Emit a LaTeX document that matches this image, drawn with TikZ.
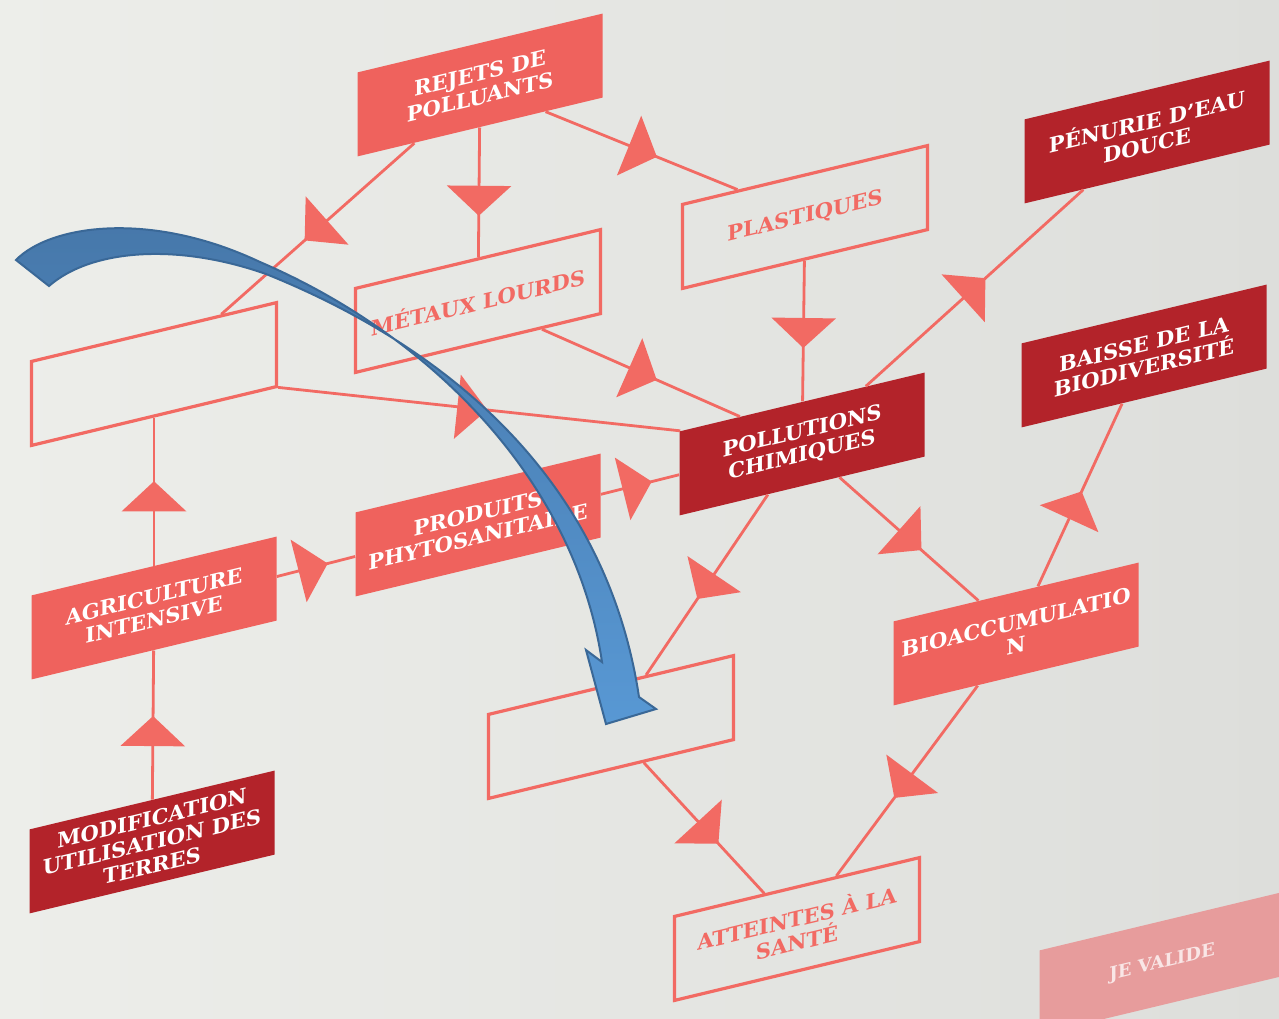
\documentclass[tikz,border=0pt]{standalone}
\usepackage{fontspec}
\setmainfont{DejaVu Serif}
\usepackage {tikz}
\usetikzlibrary {positioning}
\usetikzlibrary{arrows.meta}
\usetikzlibrary{decorations.markings}
\definecolor{saumon}{HTML}{EF625D}
\definecolor{bordeaux}{HTML}{B3232A}
\definecolor{trait}{HTML}{F26A63}
\definecolor{rose}{HTML}{E79C9C}
\definecolor{fondg}{HTML}{EDEEEA}
\definecolor{fondd}{HTML}{DDDEDB}
\definecolor{bleuh}{HTML}{4677A9}
\definecolor{bleub}{HTML}{5898D4}
\definecolor{bleuf}{HTML}{3A6897}
\tikzset{
    panel/.style = {rectangle, minimum width=122.5pt, minimum height=42pt, inner sep=0pt, align=center, yslant=0.24, font=\bfseries\fontsize{10.5}{11.8}\selectfont},
    cause/.style = {panel, fill=saumon, text=white},
    impact/.style = {panel, fill=bordeaux, text=white},
    blank/.style = {panel, draw=trait, line width=1.6pt, text=trait},
    button/.style = {panel, fill=rose, text=rose!25, font=\bfseries\fontsize{9}{10}\selectfont},
    link/.style = {draw=trait, color=trait, line width=1.4pt, postaction={decorate},
      decoration={markings, mark=at position #1 with {\arrow{Triangle[length=15pt,width=32pt]}}}},
    link/.default = 0.58}
\begin{document}
\begin{tikzpicture}[x=0.5pt,y=-0.5pt]
    \shade[left color=fondg, right color=fondd] (0,0) rectangle (1279,1018);
    \useasboundingbox (0,0) rectangle (1279,1018);
    % colonne de gauche
    \path (154,374) node[blank] (V1) {}
     ++ (0,234) node[cause] (AI) {AGRICULTURE\\INTENSIVE}
     ++ (-2,234) node[impact] (MU) {MODIFICATION\\UTILISATION DES\\TERRES};
    % colonne du milieu
    \path (480,85) node[cause] (RP) {REJETS DE\\POLLUANTS}
     ++ (-2,216) node[blank] (ML) {MÉTAUX LOURDS}
     ++ (0,224) node[cause] (PP) {PRODUITS\\PHYTOSANITAIRE};
    \path (805,217) node[blank] (PL) {PLASTIQUES}
     ++ (-3,227) node[impact] (PC) {POLLUTIONS\\CHIMIQUES}
     ++ (-191,283) node[blank] (V2) {}
     ++ (186,202) node[blank] (AS) {ATTEINTES À LA\\SANTÉ};
    % colonne de droite
    \path (1147,132) node[impact] (PE) {PÉNURIE D'EAU\\DOUCE}
     ++ (-3,224) node[impact] (BB) {BAISSE DE LA\\BIODIVERSITÉ}
     ++ (-128,278) node[cause] (BA) {BIOACCUMULATIO\\N}
     ++ (146,329) node[button] (JV) {JE VALIDE};
    \path (RP) edge[link=0.57] (V1) edge[link=0.68] (ML) edge[link=0.58] (PL)
          (PL) edge[link=0.62] (PC)
          (ML) edge[link=0.58] (PC)
          (V1) edge[link=0.52] (PC)
          (AI) edge[link=0.57] (V1) edge[link=0.65] (PP)
          (MU) edge[link=0.56] (AI)
          (PP) edge[link=0.65] (PC)
          (PC) edge[link=0.55] (PE) edge[link=0.58] (V2) edge[link=0.59] (BA)
          (BA) edge[link=0.52] (BB) edge[link=0.59] (AS)
          (V2) edge[link=0.62] (AS);
    % fleche bleue par dessus
    \shadedraw[top color=bleuh, bottom color=bleub, draw=bleuf, line width=1pt]
      (16,260) .. controls (50,225) and (150,210) .. (260,262)
      .. controls (430,335) and (575,480) .. (602,662)
      -- (586,650) -- (606,724) -- (656,709) -- (639,697)
      .. controls (605,470) and (435,342) .. (266,274)
      .. controls (175,242) and (90,250) .. (49,286) -- cycle;
\end{tikzpicture}
\end{document}
